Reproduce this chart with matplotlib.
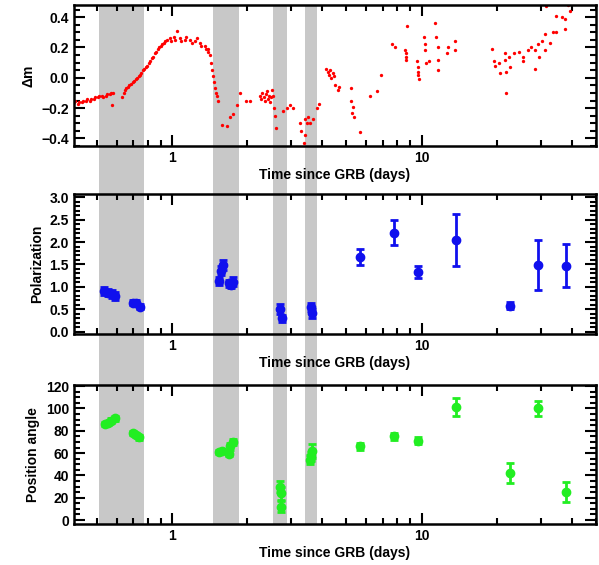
import matplotlib
matplotlib.use("Agg")
import matplotlib.pyplot as plt
from matplotlib.patches import Rectangle
from matplotlib.transforms import blended_transform_factory
from matplotlib.ticker import MultipleLocator, FixedLocator, NullFormatter

plt.rcParams['font.family'] = ['Liberation Sans', 'DejaVu Sans']
plt.rcParams['font.weight'] = 'bold'

# shaded intervals (days)
shade = [(0.511, 0.773), (1.464, 1.862), (2.55, 2.88), (3.40, 3.80)]

# light curve
lc_t = [0.405,0.41,0.421,0.425,0.437,0.44,0.453,0.458,0.47,0.475,0.487,0.49,0.506,0.51,0.525,0.53,0.544,0.55,0.565,0.57,0.58,0.575,
        0.631,0.64,0.649,0.655,0.667,0.675,0.686,0.695,0.705,0.715,0.725,0.735,0.745,0.755,0.765,0.775,0.787,0.797,0.809,0.82,0.832,0.843,0.855,0.867,0.879,0.89,0.904,0.915,0.929,0.94,0.955,
        0.982,0.99,1.02,1.03,1.05,1.077,1.09,1.127,1.14,1.18,1.2,1.236,1.26,1.294,1.31,1.355,1.37,1.393,1.40,1.419,1.43,1.445,1.458,1.472,1.485,1.50,1.515,1.527,
        1.58,1.655,1.706,1.759,1.815,1.871,1.989,2.05,
        2.25,2.28,2.30,2.33,2.36,2.38,2.40,2.42,2.45,2.47,2.50,2.52,2.54,2.56,2.583,2.605,
        2.787,2.88,2.96,3.06,3.25,3.30,3.37,3.40,3.42,3.46,3.50,3.56,3.68,3.8,3.88,
        4.15,4.22,4.25,4.30,4.35,4.40,4.45,4.49,4.63,4.65,5.23,5.23,5.31,5.25,5.34,5.65,6.23,6.64,6.85,7.62,7.86,
        8.6,8.63,8.66,8.7,8.77,9.6,9.65,9.68,9.72,9.75,10.2,10.3,10.35,10.4,10.7,11.3,11.4,11.6,11.62,11.65,12.6,12.8,13.6,13.62,
        19.2,19.6,19.65,20.5,20.7,21.6,21.65,21.7,21.8,22.5,22.55,23.5,24.5,25.4,25.45,26.6,27.4,28.5,28.55,29.4,29.45,30.5,31.3,31.35,31.5,32.6,33.5,34.6,34.7,36.6,37.6,37.65,38.7,39.4]
lc_m = [-0.16,-0.15,-0.17,-0.16,-0.16,-0.15,-0.15,-0.14,-0.15,-0.14,-0.14,-0.13,-0.13,-0.12,-0.12,-0.13,-0.12,-0.11,-0.11,-0.10,-0.10,-0.18,
        -0.13,-0.10,-0.08,-0.07,-0.06,-0.05,-0.04,-0.03,-0.02,-0.01,0.00,0.01,0.02,0.03,0.05,0.06,0.07,0.08,0.10,0.11,0.13,0.14,0.16,0.17,0.19,0.20,0.21,0.22,0.23,0.24,0.25,
        0.26,0.24,0.27,0.25,0.31,0.26,0.24,0.25,0.27,0.25,0.23,0.24,0.26,0.23,0.21,0.21,0.19,0.19,0.17,0.15,0.10,0.05,0.01,-0.03,-0.07,-0.10,-0.12,-0.15,
        -0.31,-0.32,-0.26,-0.24,-0.18,-0.10,-0.15,-0.15,
        -0.12,-0.14,-0.10,-0.13,-0.15,-0.11,-0.09,-0.14,-0.12,-0.16,-0.13,-0.08,-0.12,-0.20,-0.25,-0.33,
        -0.22,-0.20,-0.18,-0.20,-0.30,-0.35,-0.43,-0.38,-0.27,-0.30,-0.26,-0.30,-0.27,-0.20,-0.17,
        0.06,0.04,0.02,0.05,0.00,0.03,0.01,-0.05,-0.08,-0.06,-0.07,-0.15,-0.19,-0.23,-0.26,-0.36,-0.12,-0.09,0.02,0.22,0.20,
        0.18,0.16,0.14,0.12,0.34,0.11,0.07,0.04,0.02,-0.01,0.27,0.22,0.18,0.10,0.11,0.36,0.27,0.20,0.12,0.05,0.16,0.20,0.24,0.18,
        0.19,0.11,0.08,0.10,0.03,0.16,0.12,0.04,-0.10,0.14,0.07,0.16,0.17,0.14,0.11,0.18,0.20,0.18,0.06,0.22,0.14,0.24,0.29,0.18,0.47,0.23,0.30,0.41,0.30,0.40,0.32,0.39,0.48,0.44]

# polarization
pol_t = [0.532,0.556,0.575,0.593,0.70,0.718,0.746,1.544,1.566,1.60,1.686,1.727,1.758,2.72,2.75,3.59,3.63,5.67,7.73,9.71,13.7,22.6,29.2,37.8]
pol_v = [0.90,0.87,0.85,0.80,0.65,0.64,0.56,1.14,1.36,1.49,1.08,1.05,1.12,0.51,0.30,0.56,0.41,1.67,2.21,1.33,2.04,0.58,1.49,1.47]
pol_e = [0.09,0.08,0.09,0.09,0.06,0.06,0.05,0.09,0.10,0.11,0.08,0.08,0.09,0.11,0.08,0.09,0.10,0.18,0.28,0.13,0.58,0.08,0.56,0.48]

# position angle
pa_t = [0.54,0.555,0.57,0.59,0.70,0.718,0.74,1.544,1.59,1.686,1.71,1.75,2.72,2.74,2.73,3.58,3.60,3.63,5.67,7.73,9.71,13.7,22.6,29.2,37.8]
pa_v = [86,87,89,91,78,76,74,61,62,59,66,70,30,24,12,54,57,62,66,75,71,101,42,100,25]
pa_e = [2,2,2,2,2,2,2,2,2,2,3,3,5,6,5,4,4,6,3,3,3,8,9,7,9]

fig = plt.figure(figsize=(5.99, 5.65), dpi=100)
L, W = 0.1235, 0.8715
ax1 = fig.add_axes([L, 0.7416, W, 0.2496])
ax2 = fig.add_axes([L, 0.4088, W, 0.2478])
ax3 = fig.add_axes([L, 0.0726, W, 0.2460])

for ax in (ax1, ax2, ax3):
    ax.set_facecolor('none')
    ax.set_xscale('log')
    ax.set_xlim(0.405, 50)
    ax.xaxis.set_major_locator(FixedLocator([1, 10]))
    ax.set_xticklabels(['1', '10'])
    ax.xaxis.set_minor_formatter(NullFormatter())
    ax.tick_params(which='both', direction='in', top=True, right=True, width=1.5, labelsize=10)
    ax.tick_params(which='major', length=8)
    ax.tick_params(which='minor', length=4)
    for s in ax.spines.values():
        s.set_linewidth(1.8)
    ax.set_xlabel('Time since GRB (days)', fontsize=10, fontweight='bold', labelpad=2)
    for lab in ax.get_xticklabels() + ax.get_yticklabels():
        lab.set_fontweight('bold')

tr = blended_transform_factory(ax1.transData, fig.transFigure)
for a, b in shade:
    fig.patches.append(Rectangle((a, 0.0726), b - a, 0.99 - 0.0726, transform=tr,
                                 facecolor='#c8c8c8', edgecolor='none', zorder=-1))

ax1.plot(lc_t, lc_m, 'o', color='red', ms=2.4, mew=0)
ax1.set_ylim(-0.45, 0.48)
ax1.yaxis.set_major_locator(MultipleLocator(0.2))
ax1.yaxis.set_minor_locator(MultipleLocator(0.05))
ax1.set_yticks([-0.4, -0.2, 0.0, 0.2, 0.4])
ax1.set_yticklabels(['\u22120.4', '\u22120.2', '0.0', '0.2', '0.4'], fontweight='bold')
ax1.set_ylabel('\u0394m', fontsize=10, fontweight='bold')

ax2.errorbar(pol_t, pol_v, yerr=pol_e, fmt='o', color='#1010ee', ms=6, elinewidth=2, capsize=3, capthick=2)
ax2.set_ylim(-0.05, 3.07)
ax2.yaxis.set_major_locator(MultipleLocator(0.5))
ax2.yaxis.set_minor_locator(MultipleLocator(0.1))
ax2.set_ylabel('Polarization', fontsize=10, fontweight='bold')

ax3.errorbar(pa_t, pa_v, yerr=pa_e, fmt='o', color='#22ee22', ms=6, elinewidth=2, capsize=3, capthick=2)
ax3.set_ylim(-3.5, 121)
ax3.yaxis.set_major_locator(MultipleLocator(20))
ax3.yaxis.set_minor_locator(MultipleLocator(5))
ax3.set_ylabel('Position angle', fontsize=10, fontweight='bold')

for ax in (ax2, ax3):
    for lab in ax.get_yticklabels():
        lab.set_fontweight('bold')

fig.savefig('out.png', dpi=100)
